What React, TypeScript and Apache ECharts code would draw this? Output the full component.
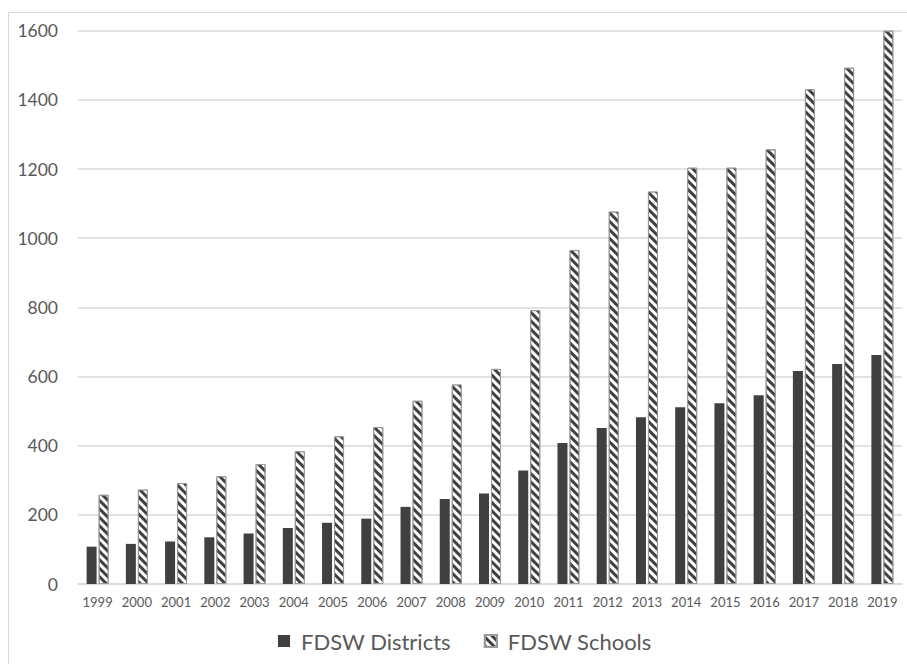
import React, { useEffect, useRef } from "react";
import * as echarts from "echarts";

const years = ["1999","2000","2001","2002","2003","2004","2005","2006","2007","2008","2009","2010","2011","2012","2013","2014","2015","2016","2017","2018","2019"];
const districts = [108,116,123,135,146,162,177,189,223,246,262,328,408,451,482,511,523,546,616,636,662];
const schools = [258,273,292,312,347,384,427,454,530,577,622,792,966,1077,1135,1204,1204,1257,1431,1493,1600];
const seriesNames = ["FDSW Districts", "FDSW Schools"];

export default function App() {
  const ref = useRef<HTMLDivElement>(null);
  useEffect(() => {
    document.body.style.margin = "0";
    const chart = echarts.init(ref.current!, null, { renderer: "svg" });
    const font = "Lato, 'Open Sans', sans-serif";
    chart.setOption({
      animation: false,
      backgroundColor: "#ffffff",
      graphic: [
        {
          type: "rect",
          shape: { x: 8.5, y: 12.5, width: 920, height: 700 },
          style: { fill: "none", stroke: "#d9d9d9", lineWidth: 1 },
          silent: true,
          z: -1,
        },
      ],
      grid: { left: 78, right: 5, top: 30.7, bottom: 80, containLabel: false },
      legend: {
        top: 625,
        left: 273,
        itemWidth: 12,
        itemHeight: 12,
        itemGap: 33,
        icon: "rect",
        textStyle: { fontFamily: font, fontSize: 22, color: "#595959", padding: [0, 0, 0, 6] },
        data: seriesNames,
      },
      xAxis: {
        type: "category",
        data: years,
        axisLine: { lineStyle: { color: "#d9d9d9", width: 1.5 } },
        axisTick: { show: false },
        axisLabel: { fontFamily: font, fontSize: 13, color: "#595959", margin: 11, interval: 0 },
      },
      yAxis: {
        type: "value",
        min: 0,
        max: 1600,
        interval: 200,
        axisLine: { show: false },
        axisTick: { show: false },
        axisLabel: {
          fontFamily: font,
          fontSize: 17.5,
          color: "#595959",
          margin: 20,
          formatter: (v: number) => String(v),
        },
        splitLine: { lineStyle: { color: "#d9d9d9", width: 1.5 } },
      },
      series: [
        {
          name: seriesNames[0],
          type: "bar",
          data: districts,
          barWidth: 10,
          barGap: "20%",
          itemStyle: { color: "#404040" },
        },
        {
          name: seriesNames[1],
          type: "bar",
          data: schools,
          barWidth: 10,
          itemStyle: {
            color: "#ffffff",
            borderColor: "#9a9a9a",
            borderWidth: 1,
            decal: {
              symbol: "rect",
              symbolSize: 1,
              color: "#404040",
              backgroundColor: "#ffffff",
              dashArrayX: [1, 0],
              dashArrayY: [2.5, 3],
              rotation: Math.PI / 4,
            },
          },
        },
      ],
    });
    return () => chart.dispose();
  }, []);
  return <div ref={ref} style={{ width: 907, height: 664 }} />;
}
